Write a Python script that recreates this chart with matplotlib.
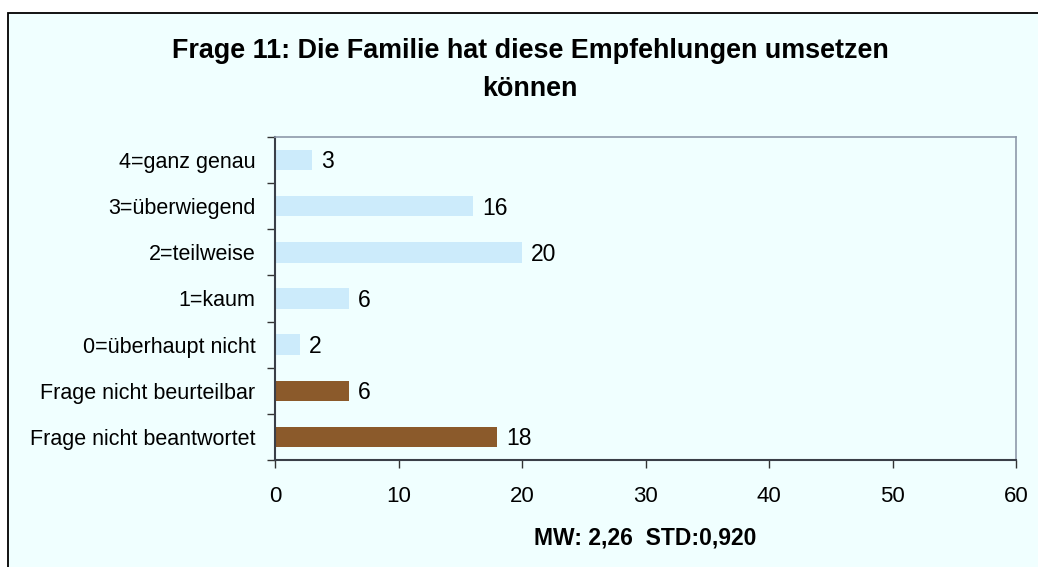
import matplotlib.pyplot as plt
from matplotlib.patches import Rectangle

# Data
categories = ["Frage nicht beantwortet", "Frage nicht beurteilbar",
              "0=überhaupt nicht", "1=kaum", "2=teilweise",
              "3=überwiegend", "4=ganz genau"]
counts = [18, 6, 2, 6, 20, 16, 3]
bar_colors = ["#8B5A2B", "#8B5A2B", "#CCEBFB", "#CCEBFB",
              "#CCEBFB", "#CCEBFB", "#CCEBFB"]
x_ticks = [0, 10, 20, 30, 40, 50, 60]
title = "Frage 11: Die Familie hat diese Empfehlungen umsetzen\nkönnen"
x_label = "MW: 2,26  STD:0,920"

plt.rcParams["font.family"] = ["Liberation Sans", "DejaVu Sans"]

W, H = 1038, 567
fig = plt.figure(figsize=(W / 100, H / 100), dpi=100)
fig.patch.set_facecolor("white")

# Chart area background with black border (left/top visible)
fig.patches.append(Rectangle((8 / W, -0.1), 1.2, 1 - 13 / H + 0.1,
                             transform=fig.transFigure, facecolor="#F0FFFF",
                             edgecolor="black", linewidth=1.3, zorder=-5))

ax = fig.add_axes([275 / W, 1 - 460 / H, (1016 - 275) / W, (460 - 137) / H])
ax.set_facecolor("#F0FFFF")

y = list(range(len(categories)))
ax.barh(y, counts, height=0.44, color=bar_colors, zorder=2)

for yi, v in zip(y, counts):
    ax.text(v + 0.75, yi - 0.04, str(v), va="center", ha="left", fontsize=16.5)

ax.set_xlim(0, 60)
ax.set_ylim(-0.5, len(categories) - 0.5)
ax.set_xticks(x_ticks)
ax.tick_params(axis="x", labelsize=16, length=6, width=1, pad=13,
               direction="out", color="#333333")

# y ticks between categories, labels at centers
ax.set_yticks(y)
ax.set_yticklabels(categories)
ax.set_yticks([i - 0.5 for i in range(len(categories) + 1)], minor=True)
ax.tick_params(axis="y", which="major", length=0, labelsize=15.5, pad=14)
ax.tick_params(axis="y", which="minor", length=6, width=1, color="#333333")

for side in ["left", "bottom"]:
    ax.spines[side].set_color("#3A3F48")
    ax.spines[side].set_linewidth(1.5)
for side in ["top", "right"]:
    ax.spines[side].set_color("#8E99AA")
    ax.spines[side].set_linewidth(1.2)

ax.set_xlabel(x_label, fontsize=16.5, fontweight="bold", labelpad=14)

fig.text(530 / W, 1 - 70 / H, title, ha="center", va="center",
         fontsize=19.4, fontweight="bold", linespacing=1.55)

fig.savefig("out.png", dpi=100)
